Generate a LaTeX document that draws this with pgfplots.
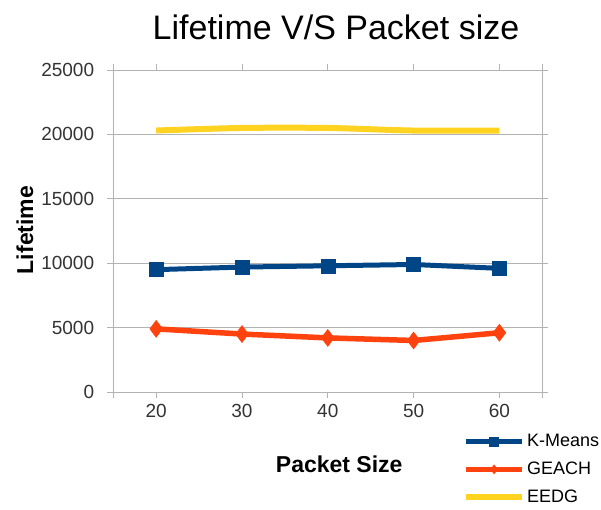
\documentclass[border=0pt]{standalone}
\usepackage{pgfplots}
\pgfplotsset{compat=1.18}
\usepackage{pgfplotstable}
\usepackage{fontspec}
\setmainfont{Liberation Sans}

\definecolor{kmeans}{HTML}{004586}
\definecolor{geach}{HTML}{FF420E}
\definecolor{eedg}{HTML}{FFD320}
\definecolor{gridgray}{HTML}{B3B3B3}
\definecolor{ticktext}{HTML}{333333}

\pgfplotstableread{
size kmeans geach eedg
20   9500   4900  20300
30   9700   4500  20500
40   9800   4200  20500
50   9900   4000  20300
60   9600   4600  20300
}\lifetime

\begin{document}
\begin{tikzpicture}
\useasboundingbox (-113.3pt,-117pt) rectangle (487.7pt,392pt);
\begin{axis}[
  at={(0pt,0pt)}, anchor=origin,
  scale only axis,
  width=429pt, height=322pt,
  xmin=15, xmax=65,
  ymin=0, ymax=25000,
  xtick={15,20,30,40,50,60,65},
  xticklabels={,20,30,40,50,60,},
  ytick={0,5000,...,25000},
  scaled y ticks=false,
  /pgf/number format/assume math mode=true,
  /pgf/number format/1000 sep={},
  tick align=outside,
  major tick length=6pt,
  tick style={gridgray, line width=0.8pt},
  axis line style={gridgray, line width=0.8pt},
  ymajorgrids,
  grid style={gridgray, line width=0.8pt},
  ticklabel style={font=\fontsize{19}{22}\selectfont, text=ticktext},
  yticklabel style={inner sep=0pt, xshift=-13pt},
  xticklabel style={inner sep=0pt, yshift=-6pt},
  clip=false,
  legend style={
    at={(0.815,-0.125)}, anchor=north west,
    draw=none, fill=none,
    font=\fontsize{18}{20}\selectfont,
    row sep=10pt, inner sep=0pt,
    legend cell align=left,
  },
  legend image code/.code={%
    \draw[mark repeat=2, mark phase=2, #1, mark size=4.5pt]
      plot coordinates {(0pt,0pt) (28pt,0pt) (56pt,0pt)};},
]
\addplot[kmeans, line width=5pt, mark=square*, mark size=7pt,
  mark options={solid, line width=0.5pt}]
  table[x=size, y=kmeans] {\lifetime};
\addlegendentry{K-Means}
\addplot[geach, line width=5.5pt, mark=diamond*, mark size=8.5pt,
  mark options={solid, line width=0.5pt}]
  table[x=size, y=geach] {\lifetime};
\addlegendentry{GEACH}
\addplot[eedg, line width=6pt, smooth, mark=none]
  table[x=size, y=eedg] {\lifetime};
\addlegendentry{EEDG}
\end{axis}
\node at (222.7pt,365pt) {\fontsize{34}{38}\selectfont Lifetime V/S Packet size};
\node[rotate=90] at (-88.3pt,162pt) {\fontsize{23}{26}\selectfont\bfseries Lifetime};
\node at (225.9pt,-72pt) {\fontsize{23}{26}\selectfont\bfseries Packet Size};
\end{tikzpicture}
\end{document}
